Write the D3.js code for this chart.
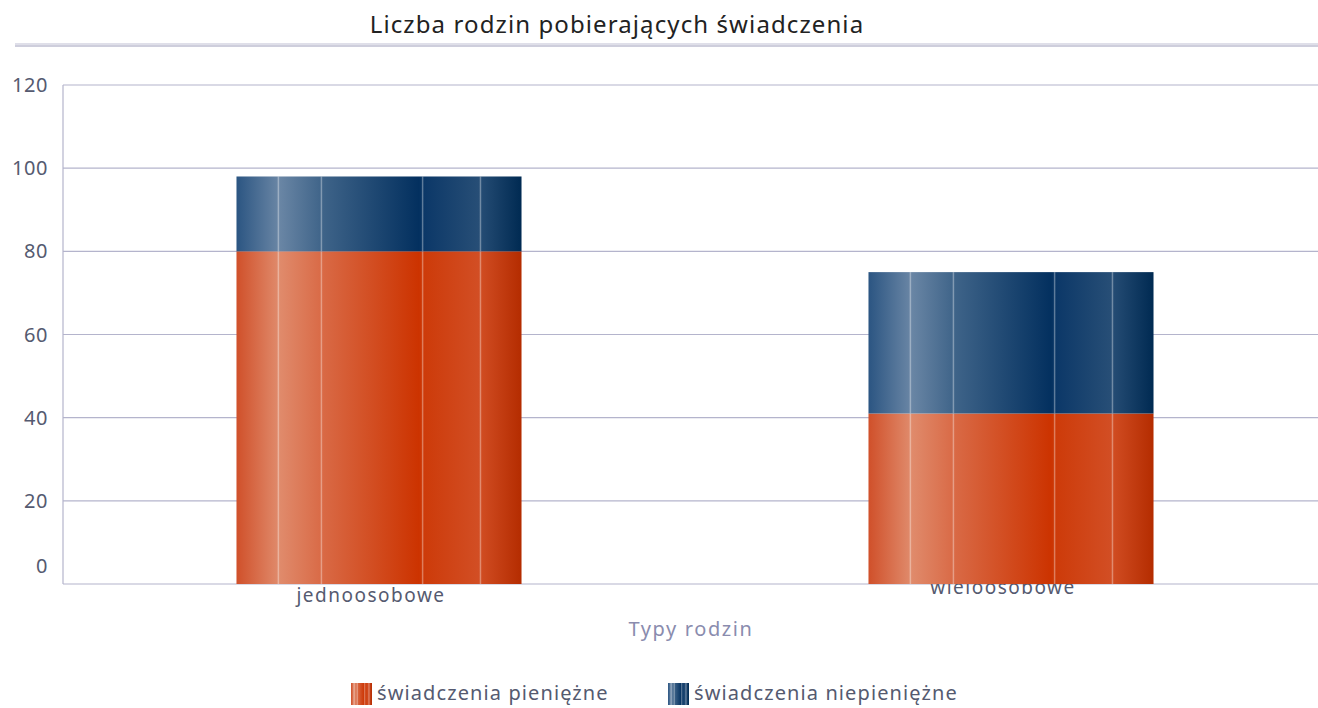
<!DOCTYPE html>
<html>
<head>
<meta charset="utf-8">
<script src="https://cdn.jsdelivr.net/npm/d3@7"></script>
<style>
  body { margin: 0; background: #fff; }
  text { font-family: "Noto Sans", sans-serif; }
</style>
</head>
<body>
<script>
const categories = ['jednoosobowe', 'wieloosobowe'];
const seriesNames = ['świadczenia pieniężne', 'świadczenia niepieniężne'];
const pieniezne = [80, 41];
const niepieniezne = [18, 34];
const yTicks = [0, 20, 40, 60, 80, 100, 120];

const W = 1318, H = 708;
const m = { left: 63, right: 1327, top: 85, bottom: 584 };

const svg = d3.select('body').append('svg').attr('width', W).attr('height', H);
const defs = svg.append('defs');

// bar gradients with the shiny stripes
const grads = {
  orange: [['0', '#d0502a'], ['0.15', '#e08b6c'], ['0.3', '#d96a46'], ['0.64', '#cc3300'], ['0.66', '#cd3b0a'], ['0.85', '#d24e24'], ['1', '#b42c00']],
  blue: [['0', '#2b5582'], ['0.15', '#6a86a5'], ['0.3', '#3f6489'], ['0.64', '#03305f'], ['0.66', '#0c3868'], ['0.85', '#274e76'], ['1', '#002a52']]
};
Object.entries(grads).forEach(([k, stops]) => {
  const g = defs.append('linearGradient').attr('id', 'g-' + k).attr('x1', 0).attr('x2', 1).attr('y1', 0).attr('y2', 0);
  stops.forEach(s => g.append('stop').attr('offset', s[0]).attr('stop-color', s[1]));
});
const colors = ['orange', 'blue'];
const stripes = [0.147, 0.298, 0.653, 0.856];

// title
svg.append('text').attr('x', 617).attr('y', 33).attr('text-anchor', 'middle')
  .attr('font-size', 24).attr('fill', '#222').attr('letter-spacing', 1.1)
  .text('Liczba rodzin pobierających świadczenia');
svg.append('line').attr('x1', 15).attr('x2', W).attr('y1', 44).attr('y2', 44).attr('stroke', '#d4d4e2').attr('stroke-width', 1.5);
svg.append('line').attr('x1', 15).attr('x2', W).attr('y1', 46).attr('y2', 46).attr('stroke', '#9e9eba').attr('stroke-width', 1.2);

const y = d3.scaleLinear().domain([0, 120]).range([m.bottom, m.top]);
const x = d3.scaleBand().domain(categories).range([m.left, m.right]);
const barW = x.bandwidth() * 0.451;

// grid
svg.append('g').selectAll('line').data(yTicks.filter(d => d > 0)).enter().append('line')
  .attr('x1', m.left).attr('x2', W).attr('y1', d => y(d)).attr('y2', d => y(d))
  .attr('stroke', '#b4b4cc').attr('stroke-width', 1.2);
svg.append('line').attr('x1', m.left).attr('x2', m.left).attr('y1', m.top).attr('y2', m.bottom).attr('stroke', '#b4b4cc').attr('stroke-width', 1.2);
svg.append('line').attr('x1', m.left).attr('x2', W).attr('y1', m.bottom).attr('y2', m.bottom).attr('stroke', '#b4b4cc').attr('stroke-width', 1.2);

// y labels
svg.append('g').selectAll('text').data(yTicks).enter().append('text')
  .attr('x', 48).attr('y', d => d === 0 ? y(d) - 18 : y(d))
  .attr('dy', '0.35em').attr('text-anchor', 'end').attr('letter-spacing', 0.6)
  .attr('font-size', 20).attr('fill', '#555a70').text(d => d);

// x labels (drawn under the bars)
svg.append('g').selectAll('text').data(categories).enter().append('text')
  .attr('x', d => x(d) + x.bandwidth() / 2 - 8)
  .attr('y', (d, i) => i === 0 ? 602 : 594)
  .attr('text-anchor', 'middle').attr('font-size', 19).attr('letter-spacing', 1.5)
  .attr('fill', '#555a70').text(d => d);

// stacked bars
const rows = categories.map((c, i) => ({ cat: c, pieniezne: pieniezne[i], niepieniezne: niepieniezne[i] }));
const stack = d3.stack().keys(['pieniezne', 'niepieniezne'])(rows);
stack.forEach((layer, li) => {
  const g = svg.append('g');
  layer.forEach(d => {
    const bx = x(d.data.cat) + (x.bandwidth() - barW) / 2;
    const by = y(d[1]), bh = y(d[0]) - y(d[1]);
    g.append('rect').attr('x', bx).attr('y', by).attr('width', barW).attr('height', bh)
      .attr('fill', `url(#g-${colors[li]})`);
    stripes.forEach(s => {
      g.append('line').attr('x1', bx + barW * s).attr('x2', bx + barW * s)
        .attr('y1', by).attr('y2', by + bh)
        .attr('stroke', '#fff').attr('stroke-opacity', 0.35).attr('stroke-width', 1.5);
    });
  });
});

// axis title
svg.append('text').attr('x', 691).attr('y', 636).attr('text-anchor', 'middle')
  .attr('font-size', 20).attr('fill', '#8a8cae').attr('letter-spacing', 1.6).text('Typy rodzin');

// legend
const legX = [351, 668];
seriesNames.forEach((n, i) => {
  const lg = svg.append('g').attr('transform', `translate(${legX[i]},683)`);
  lg.append('rect').attr('width', 21).attr('height', 22).attr('fill', `url(#g-${colors[i]})`);
  stripes.forEach(s => lg.append('line').attr('x1', 21 * s).attr('x2', 21 * s).attr('y1', 0).attr('y2', 22)
    .attr('stroke', '#fff').attr('stroke-opacity', 0.4).attr('stroke-width', 1));
  lg.append('text').attr('x', 26).attr('y', 17).attr('font-size', 20).attr('letter-spacing', 1.1)
    .attr('fill', '#555a70').text(n);
});
</script>
</body>
</html>
